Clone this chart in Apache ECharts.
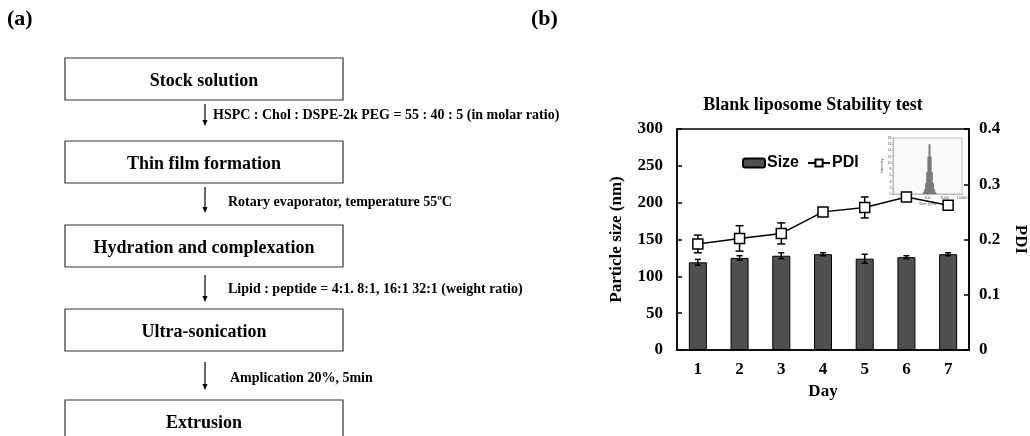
<!DOCTYPE html>
<html>
<head>
<meta charset="utf-8">
<script src="https://cdn.jsdelivr.net/npm/echarts@6/dist/echarts.min.js"></script>
<style>
html, body { margin: 0; padding: 0; background: #fff; }
#main { width: 1030px; height: 436px; }
</style>
</head>
<body>
<div id="main"></div>
<script>
// 数据：粒径 / PDI（按天）
var days = ['1', '2', '3', '4', '5', '6', '7'];
var sizeMean = [119, 125, 128, 130, 124, 126, 130];
var sizeErr = [4, 3, 4, 2, 6, 2, 2];
var pdiMean = [0.192, 0.202, 0.211, 0.250, 0.258, 0.277, 0.262];
var pdiErr = [0.016, 0.023, 0.019, 0.005, 0.019, 0.007, 0.007];
var sizeTicks = [0, 50, 100, 150, 200, 250, 300];

// 插图：粒径分布
var insetSize = [60, 70, 82, 96, 112, 131, 153, 179, 209, 244, 285];
var insetIntensity = [0.5, 1.5, 3.5, 7, 12, 16, 12, 7, 3.5, 1.5, 0.5];

// 流程图文字
var steps = ['Stock solution', 'Thin film formation', 'Hydration and complexation', 'Ultra-sonication', 'Extrusion'];
var notes = [
    'HSPC : Chol : DSPE-2k PEG = 55 : 40 : 5 (in molar ratio)',
    'Rotary evaporator, temperature 55\u00baC',
    'Lipid : peptide = 4:1. 8:1, 16:1 32:1 (weight ratio)',
    'Amplication 20%, 5min'
];

var serif = '"Liberation Serif", "Times New Roman", serif';
var sans = '"Liberation Sans", Arial, sans-serif';

//误差线
function errorBar(capHalf) {
    return function (params, api) {
        var x = api.value(0);
        var top = api.coord([x, api.value(2)]);
        var bot = api.coord([x, api.value(1)]);
        var st = {stroke: '#000', lineWidth: 1.5};
        return {
            type: 'group',
            children: [
                {type: 'line', shape: {x1: top[0], y1: top[1], x2: bot[0], y2: bot[1]}, style: st},
                {type: 'line', shape: {x1: top[0] - capHalf, y1: top[1], x2: top[0] + capHalf, y2: top[1]}, style: st},
                {type: 'line', shape: {x1: bot[0] - capHalf, y1: bot[1], x2: bot[0] + capHalf, y2: bot[1]}, style: st}
            ]
        };
    };
}

//流程图 (a)
function buildFlow() {
    var boxTop = [58, 141, 225, 309, 400];
    var arrows = [[104, 126], [187, 213], [275, 302], [362, 390]];
    var noteX = [213, 228, 228, 230];
    var noteY = [115, 202, 289, 378];
    var items = [];
    for (var i = 0; i < steps.length; i++) {
        items.push({
            type: 'rect', silent: true,
            shape: {x: 65, y: boxTop[i], width: 278, height: 42},
            style: {fill: '#fff', stroke: '#333', lineWidth: 1.2}
        });
        items.push({
            type: 'text', silent: true, x: 204, y: boxTop[i] + 23,
            style: {text: steps[i], font: 'bold 18px ' + serif, fill: '#000', align: 'center', verticalAlign: 'middle'}
        });
    }
    for (var j = 0; j < arrows.length; j++) {
        var a = arrows[j];
        items.push({
            type: 'line', silent: true,
            shape: {x1: 205, y1: a[0], x2: 205, y2: a[1] - 4},
            style: {stroke: '#000', lineWidth: 1.2}
        });
        items.push({
            type: 'polygon', silent: true,
            shape: {points: [[202.5, a[1] - 6], [207.5, a[1] - 6], [205, a[1]]]},
            style: {fill: '#000'}
        });
        items.push({
            type: 'text', silent: true, x: noteX[j], y: noteY[j],
            style: {text: notes[j], font: 'bold 14px ' + serif, fill: '#000', align: 'left', verticalAlign: 'middle'}
        });
    }
    items.push({
        type: 'text', silent: true, x: 7, y: 19,
        style: {text: '(a)', font: 'bold 22px ' + serif, fill: '#000', verticalAlign: 'middle'}
    });
    items.push({
        type: 'text', silent: true, x: 531, y: 19,
        style: {text: '(b)', font: 'bold 22px ' + serif, fill: '#000', verticalAlign: 'middle'}
    });
    items.push({
        type: 'text', silent: true, x: 813, y: 105,
        style: {text: 'Blank liposome Stability test', font: 'bold 18px ' + serif, fill: '#000', align: 'center', verticalAlign: 'middle'}
    });
    return items;
}

var myChart = echarts.init(document.getElementById('main'));

var option = {
    backgroundColor: '#fff',
    animation: false,
    graphic: buildFlow(),
    legend: {
        data: ['Size', 'PDI'],
        left: 737,
        top: 150,
        itemWidth: 22,
        itemHeight: 9,
        itemGap: 8,
        textStyle: {fontFamily: sans, fontWeight: 'bold', fontSize: 16, color: '#000', padding: [0, 0, 0, -3]}
    },
    grid: [
        {left: 677, top: 129, width: 293, height: 221, show: true, borderColor: '#000', borderWidth: 1.5},
        {left: 893, top: 138, width: 69, height: 56, show: true, borderColor: '#bbb', borderWidth: 1, backgroundColor: '#fafafa'}
    ],
    xAxis: [
        {
            type: 'category', gridIndex: 0, data: days,
            axisLine: {lineStyle: {color: '#000', width: 1.5}},
            axisTick: {inside: true, length: 5, interval: 0, lineStyle: {color: '#000', width: 1.5}},
            axisLabel: {fontFamily: serif, fontWeight: 'bold', fontSize: 17, color: '#000', margin: 11},
            name: 'Day', nameLocation: 'middle', nameGap: 33,
            nameTextStyle: {fontFamily: serif, fontWeight: 'bold', fontSize: 17, color: '#000'}
        },
        {
            type: 'log', gridIndex: 1, min: 1, max: 10000, logBase: 10,
            axisLine: {lineStyle: {color: '#999', width: 0.5}},
            axisTick: {length: 1.5, lineStyle: {color: '#999', width: 0.5}},
            axisLabel: {fontSize: 4, color: '#555', margin: 2,
                formatter: function (v) { return v >= 100 ? String(v) : ''; }},
            splitLine: {show: false},
            name: 'Size (nm)', nameLocation: 'middle', nameGap: 8,
            nameTextStyle: {fontSize: 4, color: '#555'}
        }
    ],
    yAxis: [
        {
            type: 'value', gridIndex: 0, min: 0, max: 300, interval: 50,
            axisLine: {show: true, lineStyle: {color: '#000', width: 1.5}},
            axisTick: {show: true, inside: true, length: 5, lineStyle: {color: '#000', width: 1.5}},
            axisLabel: {fontFamily: serif, fontWeight: 'bold', fontSize: 17, color: '#000', margin: 14,
                customValues: sizeTicks},
            splitLine: {show: false},
            name: 'Particle size (nm)', nameLocation: 'middle', nameGap: 52,
            nameTextStyle: {fontFamily: serif, fontWeight: 'bold', fontSize: 17, color: '#000'}
        },
        {
            type: 'value', gridIndex: 0, position: 'right', min: 0, max: 0.4, interval: 0.1,
            axisLine: {show: true, lineStyle: {color: '#000', width: 1.5}},
            axisTick: {show: true, inside: true, length: 5, lineStyle: {color: '#000', width: 1.5}},
            axisLabel: {fontFamily: serif, fontWeight: 'bold', fontSize: 17, color: '#000', margin: 10,
                formatter: function (v) { return v === 0 ? '0' : v.toFixed(1); }},
            splitLine: {show: false},
            name: 'PDI', nameLocation: 'middle', nameGap: 43, nameRotate: -90,
            nameTextStyle: {fontFamily: serif, fontWeight: 'bold', fontSize: 17, color: '#000'}
        },
        {
            type: 'value', gridIndex: 1, min: 0, max: 18, interval: 2,
            axisLine: {show: true, lineStyle: {color: '#999', width: 0.5}},
            axisTick: {show: true, length: 1.5, lineStyle: {color: '#999', width: 0.5}},
            axisLabel: {fontSize: 3.5, color: '#555', margin: 1.5},
            splitLine: {show: false},
            name: 'Intensity', nameLocation: 'middle', nameGap: 5,
            nameTextStyle: {fontSize: 4, color: '#555'}
        }
    ],
    series: [
        {
            name: 'Size', type: 'bar', xAxisIndex: 0, yAxisIndex: 0,
            data: sizeMean, barWidth: 18,
            itemStyle: {color: '#505050', borderColor: '#000', borderWidth: 1}
        },
        {
            type: 'custom', xAxisIndex: 0, yAxisIndex: 0, z: 3,
            renderItem: errorBar(3),
            encode: {x: 0, y: [1, 2]},
            data: sizeMean.map(function (m, i) { return [i, m - sizeErr[i], m + sizeErr[i]]; })
        },
        {
            type: 'custom', xAxisIndex: 0, yAxisIndex: 1, z: 3,
            renderItem: errorBar(4),
            encode: {x: 0, y: [1, 2]},
            data: pdiMean.map(function (m, i) { return [i, m - pdiErr[i], m + pdiErr[i]]; })
        },
        {
            name: 'PDI', type: 'line', xAxisIndex: 0, yAxisIndex: 1, z: 5,
            data: pdiMean,
            symbol: 'rect', symbolSize: 10,
            lineStyle: {color: '#000', width: 1.5},
            itemStyle: {color: '#fff', borderColor: '#000', borderWidth: 1.5}
        },
        {
            type: 'bar', xAxisIndex: 1, yAxisIndex: 2, silent: true,
            data: insetSize.map(function (s, i) { return [s, insetIntensity[i]]; }),
            barWidth: 2,
            itemStyle: {color: '#7a7a7a'}
        }
    ]
};

myChart.setOption(option);
</script>
</body>
</html>
